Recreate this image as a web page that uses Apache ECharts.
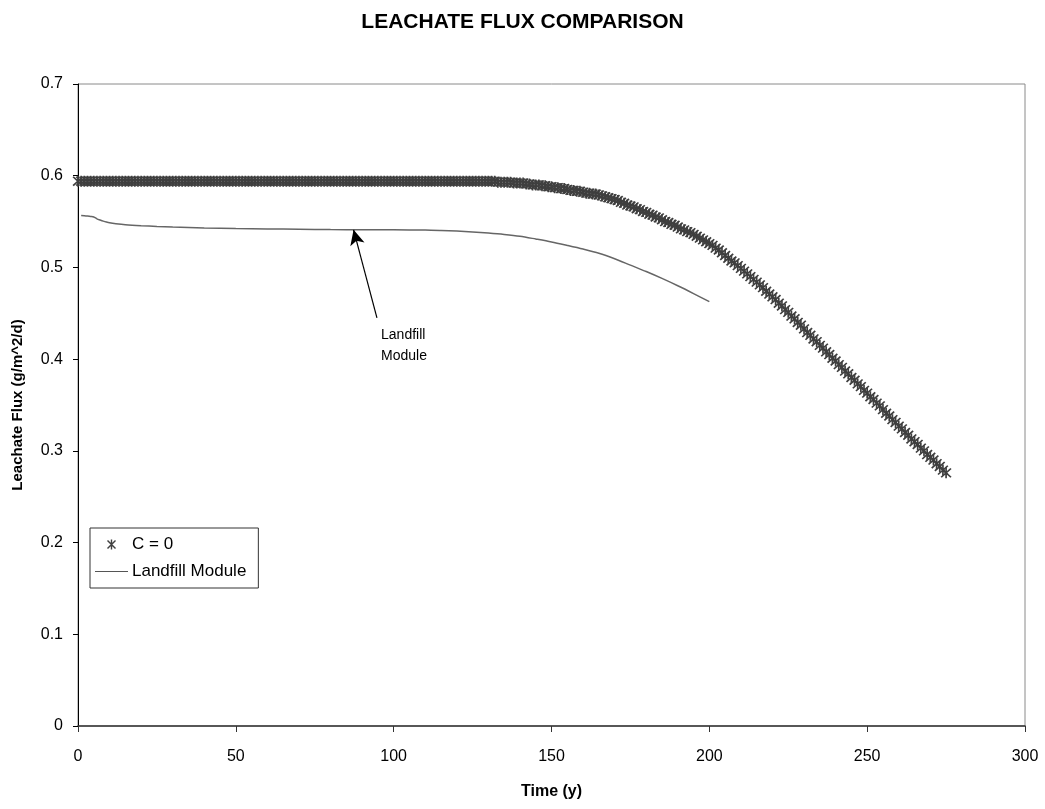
<!DOCTYPE html>
<html>
<head>
<meta charset="utf-8">
<script src="https://cdn.jsdelivr.net/npm/echarts@6/dist/echarts.min.js"></script>
<style>
html,body{margin:0;padding:0;background:#fff;}
#chart{width:1045px;height:809px;}
</style>
</head>
<body>
<div id="chart"></div>
<script>
// ---- data ----
var titleText = 'LEACHATE FLUX COMPARISON';
var xTicks = [0, 50, 100, 150, 200, 250, 300];
var yTicks = [0, 0.1, 0.2, 0.3, 0.4, 0.5, 0.6, 0.7];

// C = 0 : yearly values, t = 0 .. 275
var c0Flux = [
  0.594,0.594,0.594,0.594,0.594,0.594,0.594,0.594,0.594,0.594,
  0.594,0.594,0.594,0.594,0.594,0.594,0.594,0.594,0.594,0.594,
  0.594,0.594,0.594,0.594,0.594,0.594,0.594,0.594,0.594,0.594,
  0.594,0.594,0.594,0.594,0.594,0.594,0.594,0.594,0.594,0.594,
  0.594,0.594,0.594,0.594,0.594,0.594,0.594,0.594,0.594,0.594,
  0.594,0.594,0.594,0.594,0.594,0.594,0.594,0.594,0.594,0.594,
  0.594,0.594,0.594,0.594,0.594,0.594,0.594,0.594,0.594,0.594,
  0.594,0.594,0.594,0.594,0.594,0.594,0.594,0.594,0.594,0.594,
  0.594,0.594,0.594,0.594,0.594,0.594,0.594,0.594,0.594,0.594,
  0.594,0.594,0.594,0.594,0.594,0.594,0.594,0.594,0.594,0.594,
  0.594,0.594,0.594,0.594,0.594,0.594,0.594,0.594,0.594,0.594,
  0.594,0.594,0.594,0.594,0.594,0.594,0.594,0.594,0.594,0.594,
  0.594,0.594,0.594,0.594,0.594,0.594,0.594,0.594,0.594,0.594,
  0.594,0.594,0.594,0.593,0.593,0.593,0.593,0.593,0.592,0.592,
  0.592,0.592,0.591,0.591,0.590,0.590,0.590,0.589,0.589,0.588,
  0.588,0.587,0.587,0.586,0.586,0.585,0.584,0.584,0.583,0.583,
  0.582,0.581,0.581,0.580,0.580,0.579,0.578,0.577,0.576,0.575,
  0.574,0.573,0.571,0.570,0.568,0.567,0.566,0.564,0.563,0.561,
  0.560,0.558,0.557,0.555,0.554,0.552,0.550,0.549,0.547,0.546,
  0.544,0.542,0.541,0.539,0.538,0.536,0.534,0.532,0.530,0.528,
  0.526,0.524,0.521,0.519,0.516,0.513,0.510,0.507,0.505,0.502,
  0.499,0.496,0.493,0.490,0.487,0.484,0.481,0.478,0.474,0.471,
  0.468,0.465,0.461,0.458,0.454,0.451,0.447,0.444,0.440,0.437,
  0.433,0.429,0.426,0.422,0.419,0.415,0.412,0.408,0.405,0.401,
  0.398,0.394,0.391,0.387,0.384,0.380,0.377,0.373,0.370,0.366,
  0.363,0.359,0.356,0.352,0.349,0.345,0.341,0.338,0.334,0.331,
  0.327,0.324,0.320,0.317,0.313,0.310,0.307,0.303,0.300,0.296,
  0.293,0.290,0.286,0.283,0.279,0.276
];
var c0StartYear = 0;

// Landfill Module
var lfTime = [1,2,3,4,5,6,7,8,9,10,12,15,20,25,30,35,40,50,60,70,80,90,100,110,115,120,125,130,135,140,145,150,155,160,165,170,175,180,185,190,195,200];
var lfFlux = [0.5565,0.5563,0.5560,0.5556,0.5550,0.5530,0.5517,0.5505,0.5495,0.5487,0.5477,0.5466,0.5455,0.5447,0.5440,0.5435,0.5430,0.5424,0.5420,0.5416,0.5413,0.5411,0.5410,0.5408,0.5403,0.5396,0.5387,0.5375,0.5360,0.5340,0.5310,0.5278,0.5240,0.5200,0.5155,0.5095,0.5025,0.4955,0.4880,0.4800,0.4715,0.4627];

// annotation (data coordinates)
var annoText = 'Landfill\nModule';
var annoArrowFrom = [94.7, 0.445];
var annoArrowTo = [87.3, 0.541];
var annoTextAt = [96.0, 0.438];

// ---- build ----
var c0Data = c0Flux.map(function (v, i) { return [c0StartYear + i, v]; });
var lfData = lfTime.map(function (t, i) { return [t, lfFlux[i]]; });

var FONT = '"Liberation Sans", Arial, Helvetica, sans-serif';
var starPath = 'path://M4.3,0L5.7,0L5.7,10L4.3,10Z' +
  'M0.5,1.5L1.5,0.5L9.5,8.5L8.5,9.5Z' +
  'M8.5,0.5L9.5,1.5L1.5,9.5L0.5,8.5Z';

var chart = echarts.init(document.getElementById('chart'), null, {renderer: 'canvas'});
var option = {
  backgroundColor: '#ffffff',
  animation: false,
  textStyle: {fontFamily: FONT},
  title: {
    text: titleText,
    left: 'center',
    top: 7,
    textStyle: {fontFamily: FONT, fontSize: 21, fontWeight: 'bold', color: '#000'}
  },
  grid: {
    left: 78, right: 20, top: 84, bottom: 83,
    show: true, borderColor: '#8a8a8a', borderWidth: 1, backgroundColor: 'transparent'
  },
  legend: {
    orient: 'vertical',
    left: 90, top: 528,
    padding: [8, 12, 8, 5],
    itemGap: 10,
    itemWidth: 33, itemHeight: 10,
    borderColor: '#333', borderWidth: 1,
    backgroundColor: '#fff',
    textStyle: {fontFamily: FONT, fontSize: 17, color: '#000', padding: [0, 0, 0, -1]},
    data: [
      {name: 'C = 0', icon: starPath, itemStyle: {color: '#404040'}},
      {name: 'Landfill Module', icon: 'path://M0,4.5L33,4.5L33,5.6L0,5.6Z', itemStyle: {color: '#555'}}
    ]
  },
  xAxis: {
    type: 'value', min: 0, max: 300, interval: 50,
    name: 'Time (y)', nameLocation: 'middle', nameGap: 58,
    nameTextStyle: {fontFamily: FONT, fontSize: 16, fontWeight: 'bold', color: '#000'},
    axisLine: {onZero: false, lineStyle: {color: '#333', width: 1.5}},
    axisTick: {show: true, inside: false, length: 6, lineStyle: {color: '#333', width: 1}},
    axisLabel: {margin: 23, fontFamily: FONT, fontSize: 16, color: '#000',
      formatter: function (v) { return String(v); }},
    splitLine: {show: false}
  },
  yAxis: {
    type: 'value', min: 0, max: 0.7, interval: 0.1,
    name: 'Leachate Flux (g/m^2/d)', nameLocation: 'middle', nameGap: 53,
    nameTextStyle: {fontFamily: FONT, fontSize: 15, fontWeight: 'bold', color: '#000'},
    axisLine: {show: true, lineStyle: {color: '#000', width: 1}},
    axisTick: {show: true, inside: false, length: 5, lineStyle: {color: '#000', width: 1}},
    axisLabel: {margin: 15, fontFamily: FONT, fontSize: 16, color: '#000',
      formatter: function (v) { return v === 0 ? '0' : v.toFixed(1); }},
    splitLine: {show: false}
  },
  series: [
    {
      name: 'C = 0',
      type: 'scatter',
      data: c0Data,
      symbol: starPath,
      symbolSize: 11,
      itemStyle: {color: '#3f3f3f', opacity: 1},
      z: 3
    },
    {
      name: 'Landfill Module',
      type: 'line',
      data: lfData,
      showSymbol: false,
      symbol: 'none',
      smooth: 0.3,
      lineStyle: {color: '#666', width: 1.5},
      itemStyle: {color: '#666'},
      z: 4,
      markLine: {
        silent: true,
        symbol: ['none', 'arrow'],
        symbolSize: [11, 15],
        lineStyle: {color: '#000', width: 1.2, type: 'solid'},
        label: {show: false},
        data: [[{coord: annoArrowFrom}, {coord: annoArrowTo}]]
      },
      markPoint: {
        silent: true,
        symbol: 'circle', symbolSize: 0,
        label: {show: true, position: 'right', distance: 0, formatter: annoText,
          fontFamily: FONT, fontSize: 14, color: '#000', lineHeight: 21, align: 'left', verticalAlign: 'top'},
        data: [{coord: annoTextAt}]
      }
    }
  ]
};
chart.setOption(option);
</script>
</body>
</html>
